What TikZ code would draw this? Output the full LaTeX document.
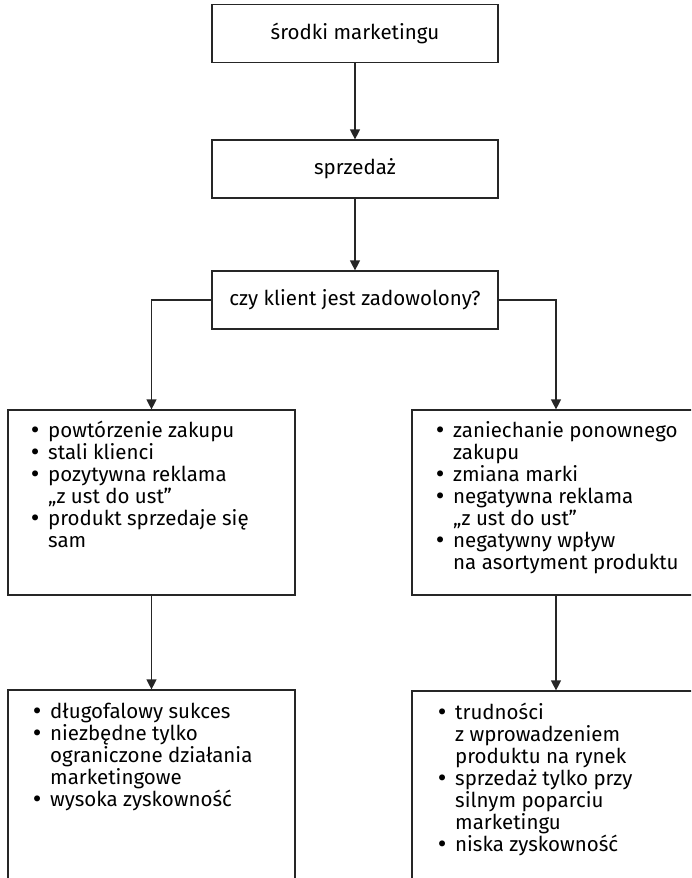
\documentclass[tikz,border=0pt]{standalone}
\usepackage{fontspec}
\setmainfont{Fira Sans}
\newfontfamily\dejavu{DejaVu Sans}
\usetikzlibrary{arrows.meta}
\newcommand{\bul}{\llap{{\dejavu •}\hspace{7pt}}}
\tikzset{
  box/.style={draw=black!85, line width=1.2pt, rectangle, inner sep=0pt},
  conn/.style={draw=black!85, line width=1.2pt, -{Triangle[length=10pt,width=10pt]}},
  lst/.style={anchor=north west, inner sep=0pt, align=left, font=\fontsize{20.5}{22}\selectfont, text=black},
  lbl/.style={font=\fontsize{20.5}{22}\selectfont, text=black}
}
\begin{document}
\begin{tikzpicture}[x=1pt,y=-1pt]
\clip (0,0) rectangle (691,878);
\fill[white] (0,0) rectangle (691,878);
% top boxes
\node[box, minimum width=286pt, minimum height=58pt] (b1) at (355,33.5) {};
\node[lbl] (t1) at (b1.center) {środki marketingu};
\node[box, minimum width=286pt, minimum height=58pt] (b2) at (355,169) {};
\node[lbl] (t2) at (b2.center) {sprzedaż};
\node[box, minimum width=286pt, minimum height=58pt] (b3) at (355,300) {};
\node[lbl] (t3) at (b3.center) {czy klient jest zadowolony?};
% middle boxes
\node[box, minimum width=287pt, minimum height=185pt] (l1) at (151.5,502.5) {};
\node[box, minimum width=288pt, minimum height=185pt] (r1) at (556,502.5) {};
% bottom boxes
\node[box, minimum width=287pt, minimum height=200pt] (l2) at (151.5,790) {};
\node[box, minimum width=288pt, minimum height=200pt] (r2) at (556,791) {};
% texts
\node[lst] (tl1) at (48,421) {\bul powtórzenie zakupu\\ \bul stali klienci\\ \bul pozytywna reklama\\ „z ust do ust”\\ \bul produkt sprzedaje się\\ sam};
\node[lst] (tr1) at (453,421) {\bul zaniechanie ponownego\\ zakupu\\ \bul zmiana marki\\ \bul negatywna reklama\\ „z ust do ust”\\ \bul negatywny wpływ\\ na asortyment produktu};
\node[lst] (tl2) at (50,703) {\bul długofalowy sukces\\ \bul niezbędne tylko\\ ograniczone działania\\ marketingowe\\ \bul wysoka zyskowność};
\node[lst] (tr2) at (455,703) {\bul trudności\\ z wprowadzeniem\\ produktu na rynek\\ \bul sprzedaż tylko przy\\ silnym poparciu\\ marketingu\\ \bul niska zyskowność};
% connectors
\draw[conn] (b1) -- (b2);
\draw[conn] (b2) -- (b3);
\draw[conn] (b3.west) -| (l1.north);
\draw[conn] (b3.east) -| (r1.north);
\draw[conn] (l1) -- (l2);
\draw[conn] (r1) -- (r2);
\end{tikzpicture}
\end{document}
